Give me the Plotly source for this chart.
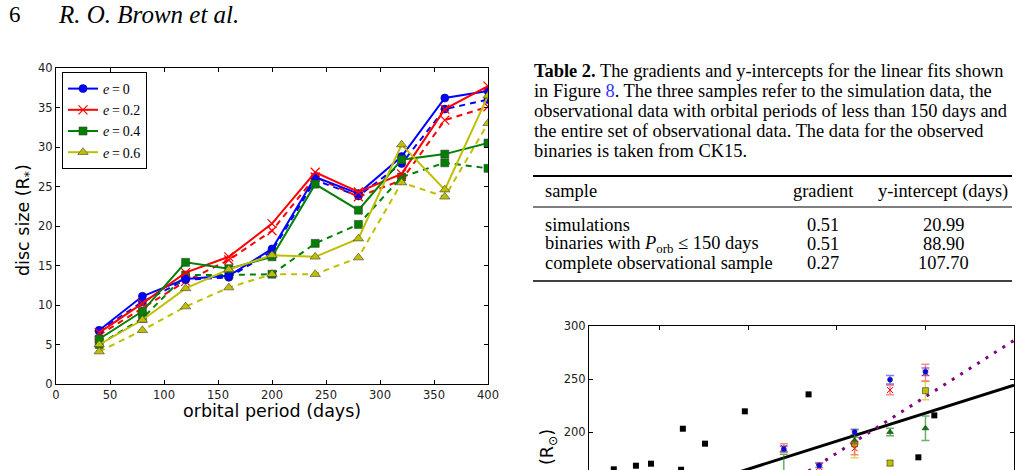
import plotly.graph_objects as go

W, H = 1029, 470

# ---------------- data: left chart ----------------
periods = [40, 80, 120, 160, 200, 240, 280, 320, 360, 400]
ecc_labels = ["0", "0.2", "0.4", "0.6"]
e00_solid = [6.8, 11.1, 13.3, 13.7, 17.1, 26.2, 24.1, 28.8, 36.2, 37.1]
e00_dash = [6.7, 10.4, 13.2, 13.5, 16.8, 25.8, 23.8, 27.9, 34.8, 36.0]
e02_solid = [6.5, 10.2, 14.1, 16.1, 20.3, 26.8, 24.3, 26.6, 34.8, 37.7]
e02_dash = [6.2, 9.6, 13.0, 15.7, 19.4, 26.2, 23.7, 25.8, 33.4, 35.1]
e04_solid = [5.7, 9.2, 15.4, 14.6, 16.1, 25.3, 22.0, 28.4, 29.1, 30.5]
e04_dash = [5.0, 8.3, 13.8, 13.8, 13.9, 17.8, 20.2, 26.2, 28.0, 27.3]
e06_solid = [5.0, 8.1, 12.1, 14.5, 16.3, 16.1, 18.4, 30.3, 24.6, 36.5]
e06_dash = [4.1, 6.8, 9.8, 12.2, 13.9, 13.9, 16.0, 25.5, 23.7, 33.0]

# ---------------- data: table ----------------
tab_samples = ["simulations", "binaries with <i>P</i><sub>orb</sub> \u2264 150 days",
               "complete observational sample"]
tab_gradient = ["0.51", "0.51", "0.27"]
tab_intercept = ["20.99", "88.90", "107.70"]

# ---------------- data: lower-right chart (partial) ----------------
obs_period = [48, 73, 90, 124, 126, 151, 196, 268, 392, 410]
obs_size = [164.8, 168.2, 170.1, 164.4, 203.1, 189.0, 219.5, 235.5, 176.1, 215.7]
sim0_p = [240, 280, 320, 360, 400]
sim0_v = [184.0, 168.5, 200.0, 249.4, 256.9]
sim0_err = [2.5, 2.0, 2.5, 4.0, 3.5]
sim2_p = [240, 280, 320, 360, 400]
sim2_v = [185.0, 167.0, 184.6, 239.6, 256.0]
sim2_err = [4.0, 4.0, 6.0, 4.5, 8.0]
sim4_p = [240, 320, 360, 400]
sim4_v = [160.0, 192.0, 200.0, 203.5]
sim4_err = [19.0, 3.0, 3.5, 11.6]
sim6_p = [320, 360, 400]
sim6_v = [188.7, 170.7, 239.0]
sim6_err = [13.0, 2.5, 8.6]
obs_fit = (0.264, 112.2)   # slope, intercept as drawn (black line)
sim_fit = (0.531, 20.9)    # slope, intercept as drawn (purple dotted)
fit_x = [20, 500]


def px(x):
    return x / W


def py(y):
    return 1 - y / H


fig = go.Figure()

colors = ["#0000ff", "#ff0000", "#008000", "#bfbf00"]
symbols = ["circle", "x-thin-open", "square", "triangle-up"]
sizes = [8, 9, 8, 9]
solids = [e00_solid, e02_solid, e04_solid, e06_solid]
dashes = [e00_dash, e02_dash, e04_dash, e06_dash]


def marker(i):
    if symbols[i] == "x-thin-open":
        return dict(symbol=symbols[i], size=sizes[i], color=colors[i],
                    line=dict(color="#ff6060", width=1.2))
    edge = "#00008b" if i == 0 else "#404040"
    return dict(symbol=symbols[i], size=sizes[i], color=colors[i],
                line=dict(color=edge, width=0.6))


for i in range(4):
    fig.add_trace(go.Scatter(x=periods, y=dashes[i], mode="lines+markers",
                             line=dict(color=colors[i], width=2, dash="6px,5px"),
                             marker=marker(i), showlegend=False,
                             xaxis="x", yaxis="y"))
for i in range(4):
    fig.add_trace(go.Scatter(x=periods, y=solids[i], mode="lines+markers",
                             line=dict(color=colors[i], width=2),
                             marker=marker(i), name="<i>e</i>\u2009=\u2009" + ecc_labels[i],
                             xaxis="x", yaxis="y"))

# ---- lower-right chart ----
fig.add_trace(go.Scatter(x=fit_x, y=[obs_fit[0] * v + obs_fit[1] for v in fit_x],
                         mode="lines", line=dict(color="black", width=3),
                         showlegend=False, xaxis="x2", yaxis="y2"))
fig.add_trace(go.Scatter(x=fit_x, y=[sim_fit[0] * v + sim_fit[1] for v in fit_x],
                         mode="lines", line=dict(color="#800080", width=3, dash="3px,7px"),
                         showlegend=False, xaxis="x2", yaxis="y2"))
fig.add_trace(go.Scatter(x=obs_period, y=obs_size, mode="markers",
                         marker=dict(symbol="square", size=6, color="black"),
                         showlegend=False, xaxis="x2", yaxis="y2"))
lower = [(sim6_p, sim6_v, sim6_err, "#bfbf00", "square", 6, "rgba(191,191,0,0.6)"),
         (sim4_p, sim4_v, sim4_err, "#008000", "triangle-up", 6, "rgba(0,128,0,0.6)"),
         (sim2_p, sim2_v, sim2_err, "#ff0000", "x-thin-open", 6, "rgba(255,60,60,0.6)"),
         (sim0_p, sim0_v, sim0_err, "#0000ff", "circle", 5, "rgba(0,0,255,0.5)")]
for p, v, e, c, s, sz, ec in lower:
    fig.add_trace(go.Scatter(x=p, y=v, mode="markers",
                             error_y=dict(type="data", array=e, color=ec, thickness=1.5, width=4),
                             marker=dict(symbol=s, size=sz, color=c,
                                         line=dict(color=(c if s == "x-thin-open" else "#333"),
                                                   width=1 if s == "x-thin-open" else 0.6)),
                             showlegend=False, xaxis="x2", yaxis="y2"))

tickfont = dict(family="DejaVu Sans", size=11.5, color="#222")
axcommon = dict(showline=True, linecolor="black", linewidth=1, ticks="inside",
                ticklen=4, tickwidth=1, tickcolor="black", showgrid=False,
                zeroline=False, tickfont=tickfont, automargin=False)

fig.update_layout(
    width=W, height=H,
    margin=dict(l=0, r=0, t=0, b=0, pad=0, autoexpand=False),
    paper_bgcolor="white", plot_bgcolor="white",
    xaxis=dict(domain=[px(56), px(488)], range=[0, 400], tick0=0, dtick=50,
               mirror="ticks", anchor="y", **axcommon),
    yaxis=dict(domain=[py(384), py(68)], range=[0, 40], tick0=0, dtick=5,
               mirror="ticks", anchor="x", **axcommon),
    xaxis2=dict(domain=[px(589), px(1014)], range=[20, 500], tick0=0, dtick=100,
                side="top", showticklabels=False, anchor="y2", **axcommon),
    yaxis2=dict(domain=[0, py(326)], range=[164.15, 300], tick0=0, dtick=50,
                mirror="ticks", anchor="x2", **axcommon),
    legend=dict(x=px(62), y=py(72), xanchor="left", yanchor="top",
                bordercolor="black", borderwidth=1, bgcolor="white",
                font=dict(family="Liberation Serif", size=14, color="black"),
                tracegroupgap=0, itemwidth=30),
    showlegend=True,
)

serif = "Liberation Serif"
ann = []


def text(x, y, s, size=18.4, anchor="left", family=serif, color="black", **kw):
    ann.append(dict(x=px(x), y=py(y), xref="paper", yref="paper", text=s,
                    showarrow=False, xanchor=anchor, yanchor="middle",
                    font=dict(family=family, size=size, color=color), **kw))


# header
text(7, 14, "6", size=23)
text(56, 14, "<i>R. O. Brown et al.</i>", size=25)

# axis titles left chart
text(272, 411, "orbital period (days)", size=17.5, anchor="center", family="DejaVu Sans")
ann.append(dict(x=px(24), y=py(220), xref="paper", yref="paper",
                text="disc size (R<sub>*</sub>)", showarrow=False, textangle=-90,
                xanchor="center", yanchor="middle",
                font=dict(family="DejaVu Sans", size=17.5, color="black")))
# lower chart y title (visible part only)
ann.append(dict(x=px(548), y=py(427), xref="paper", yref="paper",
                text="(R<sub>\u2299</sub>)", showarrow=False, textangle=-90,
                xanchor="center", yanchor="top",
                font=dict(family="DejaVu Sans", size=17.5, color="black")))

# caption
cap = ["<b>Table 2.</b> The gradients and y-intercepts for the linear fits shown",
       "in Figure <span style='color:#3030ff'>8</span>. The three samples refer to the simulation data, the",
       "observational data with orbital periods of less than 150 days and",
       "the entire set of observational data. The data for the observed",
       "binaries is taken from CK15."]
for k, line in enumerate(cap):
    text(532, 71 + k * 20, line)

# table
text(543, 191, "sample")
text(823, 191, "gradient", anchor="center")
text(943, 191, "y-intercept (days)", anchor="center")
for k in range(3):
    yy = [225, 244, 263][k]
    text(543, yy, tab_samples[k])
    text(823, yy, tab_gradient[k], anchor="center")
    text(943, yy, tab_intercept[k], anchor="center")

fig.update_layout(annotations=ann)

shapes = []
for yy, wdt in [(176, 2), (207, 1), (281, 1.5)]:
    shapes.append(dict(type="line", xref="paper", yref="paper", x0=px(533), x1=px(1012),
                       y0=py(yy), y1=py(yy), line=dict(color="black", width=wdt)))
fig.update_layout(shapes=shapes)

fig.write_html("out.html")
